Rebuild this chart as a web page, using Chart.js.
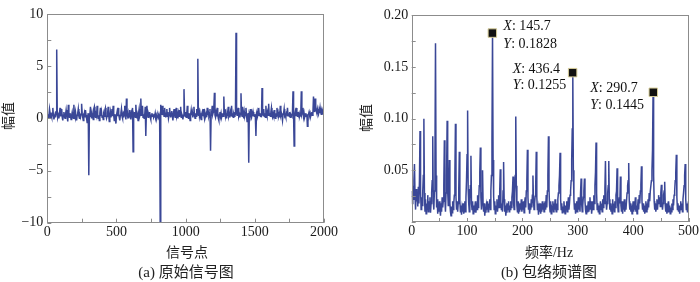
<!DOCTYPE html>
<html>
<head>
<meta charset="utf-8">
<script src="https://cdn.jsdelivr.net/npm/chart.js@4.4.0/dist/chart.umd.min.js"></script>
<style>
    body { margin: 0; background: #fff; width: 700px; height: 282px; position: relative; overflow: hidden; }
    .panel { position: absolute; top: 0; width: 350px; height: 282px; }
    .lbl { position: absolute; font-family: "Liberation Serif", "Noto Sans CJK SC", serif; font-size: 14px; color: #222;
           white-space: nowrap; transform: translate(-50%, -50%); line-height: 1; }
    .cap { font-size: 15px; }
    .ylbl { transform: translate(-50%, -50%) rotate(-90deg); }
</style>
</head>
<body>
<div class="panel" style="left:0"><canvas id="sigChart" width="350" height="282"></canvas></div>
<div class="panel" style="left:350px"><canvas id="specChart" width="350" height="282"></canvas></div>

<div class="lbl ylbl" style="left:9px; top:116px">幅值</div>
<div class="lbl" style="left:187px; top:253px">信号点</div>
<div class="lbl cap" style="left:186px; top:272px">(a) 原始信号图</div>

<div class="lbl ylbl" style="left:367px; top:118px">幅值</div>
<div class="lbl" style="left:549px; top:253px">频率/Hz</div>
<div class="lbl cap" style="left:549px; top:272px">(b) 包络频谱图</div>

<script>
// 1. DATA
// raw signal, one value every 4 samples (0..2000)
const sigStep = 4;
const signalVals = [
    0.2, 0.4, 0.1, 0.3, 0.9, 0.5, 0.0, 0.3, 0.1, 0.5, 1.0, 0.3, -0.1, 0.2, 0.4, 0.1, 0.6, 6.6, 0.4, 0.1, 0.3, 0.0, 0.5, 1.0, 0.2,
    0.5, 0.9, 0.1, -0.2, 0.3, 0.6, 0.2, 0.0, 0.4, 0.8, 0.3, 0.1, -0.3, 1.3, 0.4, 0.1, 0.5, 0.2, -0.1, 0.3, 0.6, 0.2, 0.0, 1.3, 0.3,
    0.1, 0.6, 0.2, -0.2, 0.3, 0.5, 0.9, 0.2, 0.0, 0.3, 0.1, 0.4, 1.4, 0.5, 0.1, -0.2, 0.2, 0.5, 0.1, 0.8, 0.3, 0.0, -0.4, 0.2, 0.5,
    -5.45, 0.2, 0.4, 1.1, 0.3, 0.0, 0.5, 0.2, -0.1, 0.9, 1.1, 0.3, 0.1, 0.4, 0.2, 1.2, 0.4, 0.0, 0.3, -0.2, 0.5, 1.0, 0.2, 0.6, 0.1,
    0.3, -0.1, 0.4, 0.2, 0.8, 1.0, 0.3, 0.0, 0.2, 0.5, 1.1, 0.3, -0.3, 0.2, 0.6, 0.1, 0.4, 0.9, 0.2, 1.2, 0.3, -0.2, 0.4, 0.1, -0.5,
    0.3, 0.6, 0.2, 1.0, 0.4, 0.1, -0.2, 0.3, 0.5, 0.9, 0.2, 0.0, 0.4, 0.1, 0.6, 1.2, 0.3, -0.1, 1.9, 0.4, 0.2, 0.5, 0.0, 0.3, 0.8,
    0.2, -0.1, 0.5, 0.3, 1.0, -3.2, 0.4, 0.2, 0.6, 0.1, 1.3, 0.4, 0.0, 0.3, -0.2, 0.5, 0.9, 0.2, 0.4, 1.9, 0.3, 0.6, 1.2, 0.1, 0.4,
    0.0, 0.3, 1.1, -1.7, 0.5, 1.2, 0.3, 0.1, 0.4, 0.2, 0.6, 0.1, -0.1, 0.3, 0.5, 0.2, 0.4, 0.1, 0.3, 0.2, 0.5, 0.1, 0.3, 0.0, 0.2,
    0.3, 0.1, 0.4, 0.2, -10, 1.3, 0.4, 0.6, 1.2, 0.3, 0.8, 0.2, 1.0, 0.4, 0.1, 0.5, 0.9, 0.2, 0.6, 0.0, 0.3, 1.0, 0.4, 0.1, 0.5,
    0.7, 0.2, -0.2, 0.4, 0.9, 0.3, 0.1, 0.6, 1.0, 0.2, 0.4, 0.0, 0.5, 0.2, 0.8, 0.3, 1.1, 0.1, 0.4, 0.2, -0.1, 0.3, 2.8, 0.5, 0.2,
    0.6, 0.1, 0.4, 1.2, 0.3, 0.0, 0.5, 0.2, -0.2, 0.4, 0.8, 0.3, 0.6, 0.1, 0.4, 1.1, 0.3, 0.0, 0.5, 0.2, 0.9, 0.4, 5.7, 0.3, 1.0,
    0.2, 0.5, 0.1, -0.1, 0.4, 0.6, 0.2, 0.9, 0.3, 0.0, 0.5, 0.2, 0.4, 0.1, 1.0, 0.3, 0.6, 0.2, 0.4, 0.9, -3.1, 0.3, 0.5, 1.2, 0.4,
    0.6, 1.1, 2.45, 0.3, 0.1, 0.5, 0.2, 1.0, 0.4, 0.0, -0.2, 0.4, 0.6, 0.2, 0.5, 0.1, 0.3, 0.5, 0.2, 2.1, 0.4, 0.9, 0.2, 0.5, 0.0,
    0.3, 0.6, 1.1, 0.2, 0.4, 0.1, 0.6, 0.3, 1.2, 0.2, 0.5, 0.1, 0.4, 0.2, 0.6, 0.3, 8.2, 0.9, 0.3, 0.5, 1.0, 0.2, 0.4, 0.1, 0.5,
    2.4, 0.4, 0.2, 1.1, 0.3, 0.0, 0.6, 0.2, 0.4, 1.0, 0.3, -0.3, 0.2, 0.5, -4.25, 0.4, 0.2, 0.9, 0.3, 0.1, 0.5, 0.2, 0.6, 0.3, 0.2,
    0.4, 0.1, -1.7, 0.5, 0.7, 0.2, 0.4, 1.0, 0.3, 0.5, 0.2, 0.4, 0.1, 2.9, 0.4, 0.3, 0.9, 0.2, 0.5, 0.1, 1.2, 0.4, 0.2, 0.6, 0.3,
    1.4, 0.3, 0.5, 0.2, 0.6, 1.0, 0.3, 0.1, 0.4, 0.2, 0.8, 0.3, 0.0, 0.5, 0.2, 1.0, 0.4, 0.6, 0.2, 0.4, 0.1, 1.2, 0.3, 0.5, 0.2,
    -0.2, 0.4, 0.5, 0.9, 0.2, 0.3, 0.1, 0.5, 0.4, 1.0, 0.3, 0.5, 0.2, 0.6, 0.1, 0.4, 0.3, 0.2, 0.5, 2.6, 0.4, -2.65, 0.3, 0.6, 0.2,
    1.0, 0.4, 0.2, 0.6, 0.3, 0.5, 0.2, 0.4, 0.3, 2.6, 0.4, 0.6, 1.0, 0.2, 0.5, 0.1, 0.3, 0.5, 0.2, 0.4, -0.75, 0.3, 0.4, 0.6, 0.3,
    0.5, 0.2, 0.4, 0.6, 0.3, 0.5, 2.1, 1.0, 0.6, 1.9, 1.0, 0.7, 0.5, 0.9, 0.6, 0.4, 0.8, 0.5, 1.0, 0.6, 0.4, 0.7, 0.5, 0.6, 0.4,
    0.5
];
const sigXTicks = [0, 500, 1000, 1500, 2000];
const sigYTicks = [-10, -5, 0, 5, 10];

// envelope spectrum, one value every 1 Hz (0..500 Hz)
const freqStep = 1;
const spectrumVals = [
    0.030, 0.018, 0.035, 0.022, 0.040, 0.056, 0.026, 0.012, 0.032, 0.020, 0.028, 0.015, 0.034, 0.018, 0.040, 0.088, 0.030, 0.012, 0.024, 0.016,
    0.030, 0.045, 0.100, 0.028, 0.010, 0.022, 0.008, 0.018, 0.012, 0.026, 0.010, 0.020, 0.014, 0.024, 0.009, 0.018, 0.028, 0.040, 0.083, 0.020,
    0.012, 0.030, 0.060, 0.173, 0.045, 0.014, 0.022, 0.008, 0.016, 0.010, 0.020, 0.012, 0.006, 0.018, 0.010, 0.024, 0.014, 0.020, 0.035, 0.079,
    0.022, 0.010, 0.028, 0.045, 0.098, 0.030, 0.016, 0.028, 0.060, 0.018, 0.010, 0.006, 0.015, 0.009, 0.020, 0.012, 0.018, 0.026, 0.045, 0.095,
    0.024, 0.012, 0.020, 0.010, 0.018, 0.032, 0.068, 0.020, 0.010, 0.016, 0.007, 0.014, 0.010, 0.018, 0.008, 0.012, 0.020, 0.010, 0.024, 0.040,
    0.065, 0.108, 0.032, 0.018, 0.010, 0.022, 0.035, 0.064, 0.018, 0.012, 0.020, 0.008, 0.016, 0.010, 0.014, 0.020, 0.009, 0.018, 0.012, 0.026,
    0.014, 0.020, 0.035, 0.048, 0.072, 0.024, 0.012, 0.028, 0.050, 0.016, 0.010, 0.018, 0.006, 0.014, 0.009, 0.016, 0.012, 0.020, 0.010, 0.018,
    0.014, 0.022, 0.012, 0.030, 0.045, 0.080, 0.1828, 0.060, 0.025, 0.012, 0.020, 0.008, 0.016, 0.012, 0.022, 0.010, 0.018, 0.026, 0.014, 0.030,
    0.051, 0.020, 0.012, 0.018, 0.010, 0.030, 0.058, 0.022, 0.010, 0.016, 0.006, 0.013, 0.009, 0.018, 0.012, 0.020, 0.010, 0.016, 0.012, 0.020,
    0.014, 0.024, 0.030, 0.044, 0.018, 0.012, 0.028, 0.045, 0.102, 0.035, 0.016, 0.010, 0.020, 0.008, 0.014, 0.010, 0.018, 0.012, 0.022, 0.010,
    0.016, 0.012, 0.020, 0.009, 0.018, 0.024, 0.014, 0.030, 0.040, 0.070, 0.024, 0.012, 0.018, 0.008, 0.016, 0.012, 0.022, 0.014, 0.026, 0.045,
    0.020, 0.012, 0.018, 0.025, 0.035, 0.068, 0.024, 0.012, 0.018, 0.007, 0.014, 0.010, 0.018, 0.008, 0.015, 0.010, 0.020, 0.012, 0.018, 0.010,
    0.016, 0.020, 0.012, 0.026, 0.014, 0.030, 0.045, 0.083, 0.032, 0.016, 0.010, 0.020, 0.008, 0.014, 0.012, 0.020, 0.010, 0.018, 0.012, 0.022,
    0.014, 0.010, 0.018, 0.012, 0.022, 0.028, 0.035, 0.045, 0.067, 0.022, 0.012, 0.018, 0.009, 0.015, 0.010, 0.020, 0.012, 0.008, 0.016, 0.012,
    0.020, 0.010, 0.015, 0.024, 0.012, 0.018, 0.026, 0.030, 0.040, 0.060, 0.090, 0.1445, 0.050, 0.022, 0.012, 0.018, 0.008, 0.014, 0.020, 0.010,
    0.016, 0.024, 0.012, 0.020, 0.010, 0.028, 0.042, 0.018, 0.010, 0.016, 0.024, 0.030, 0.042, 0.020, 0.012, 0.008, 0.016, 0.010, 0.014, 0.020,
    0.010, 0.016, 0.024, 0.012, 0.020, 0.008, 0.014, 0.020, 0.012, 0.026, 0.018, 0.035, 0.048, 0.077, 0.028, 0.012, 0.018, 0.010, 0.016, 0.008,
    0.014, 0.020, 0.012, 0.018, 0.010, 0.022, 0.014, 0.026, 0.018, 0.032, 0.059, 0.020, 0.012, 0.018, 0.028, 0.035, 0.059, 0.022, 0.012, 0.018,
    0.010, 0.016, 0.008, 0.022, 0.012, 0.018, 0.010, 0.020, 0.014, 0.026, 0.030, 0.052, 0.018, 0.010, 0.016, 0.024, 0.018, 0.044, 0.016, 0.010,
    0.020, 0.008, 0.016, 0.012, 0.022, 0.010, 0.018, 0.012, 0.020, 0.028, 0.035, 0.040, 0.057, 0.020, 0.012, 0.018, 0.010, 0.016, 0.008, 0.014,
    0.020, 0.010, 0.018, 0.012, 0.024, 0.010, 0.016, 0.008, 0.014, 0.022, 0.012, 0.026, 0.018, 0.030, 0.036, 0.054, 0.020, 0.012, 0.018, 0.010,
    0.016, 0.008, 0.014, 0.020, 0.010, 0.018, 0.012, 0.022, 0.014, 0.028, 0.020, 0.030, 0.030, 0.040, 0.050, 0.070, 0.1255, 0.045, 0.020, 0.012,
    0.018, 0.010, 0.016, 0.022, 0.012, 0.020, 0.026, 0.018, 0.024, 0.015, 0.028, 0.036, 0.020, 0.012, 0.018, 0.026, 0.030, 0.039, 0.016, 0.010,
    0.018, 0.008, 0.014, 0.010, 0.020, 0.012, 0.016, 0.008, 0.014, 0.010, 0.018, 0.012, 0.022, 0.016, 0.026, 0.030, 0.040, 0.048, 0.065, 0.024,
    0.012, 0.018, 0.010, 0.016, 0.008, 0.014, 0.020, 0.012, 0.018, 0.010, 0.022, 0.028, 0.035, 0.045, 0.056, 0.022, 0.012, 0.018, 0.010, 0.016,
    0.020
];
const specXTicks = [0, 100, 200, 300, 400, 500];
const specYTicks = [0, 0.05, 0.10, 0.15, 0.20];

// data tips, texts exactly as printed next to each marker
const markFreq = [145.7, 290.7, 436.4];
const markAmp = [0.1828, 0.1445, 0.1255];
const markTextX = ['145.7', '436.4', '290.7'];
const markTextY = ['0.1828', '0.1255', '0.1445'];

// 2. STYLE
const lineBlue = '#3a4797';
const frameGray = '#8c8c8c';
const tickFont = { family: "'Liberation Serif', serif", size: 14 };
// offset of the tip text from its marker: [dx, dy of X line, dy of Y line]
const tipOffsets = [[11, -7, 11], [-60, -3, 13], [-63, -4, 13]];

function range(min, max, step) {
    const out = [];
    for (let v = min; v <= max + step / 1000; v += step) out.push(+v.toFixed(4));
    return out;
}

// box frame + short inward tick marks on left and bottom
const frameTicks = {
    id: 'frameTicks',
    afterDatasetsDraw(chart, args, opts) {
        const { ctx, chartArea: a, scales: { x, y } } = chart;
        ctx.save();
        ctx.strokeStyle = frameGray;
        ctx.lineWidth = 1;
        ctx.beginPath();
        opts.xMinor.forEach(v => {
            const px = Math.round(x.getPixelForValue(v)) + 0.5;
            ctx.moveTo(px, a.bottom);
            ctx.lineTo(px, a.bottom - 4);
        });
        opts.yMinor.forEach(v => {
            const py = Math.round(y.getPixelForValue(v)) + 0.5;
            ctx.moveTo(a.left, py);
            ctx.lineTo(a.left + 4, py);
        });
        ctx.stroke();
        ctx.strokeRect(Math.round(a.left) + 0.5, Math.round(a.top) + 0.5, Math.round(a.width) - 1, Math.round(a.height) - 1);
        ctx.restore();
    }
};

// "X: ..." / "Y: ..." texts beside the spectrum markers
const tipText = {
    id: 'tipText',
    afterDatasetsDraw(chart) {
        const { ctx } = chart;
        const pts = chart.getDatasetMeta(0).data;
        ctx.save();
        ctx.fillStyle = '#111';
        ctx.textBaseline = 'middle';
        pts.forEach((p, i) => {
            const [dx, dyX, dyY] = tipOffsets[i];
            [['X', markTextX[i], dyX], ['Y', markTextY[i], dyY]].forEach(([k, val, dy]) => {
                ctx.font = "italic 14px 'Liberation Serif'";
                ctx.fillText(k, p.x + dx, p.y + dy);
                const w = ctx.measureText(k).width;
                ctx.font = "14px 'Liberation Serif'";
                ctx.fillText(': ' + val, p.x + dx + w, p.y + dy);
            });
        });
        ctx.restore();
    }
};

function baseScale(ticksArr, min, max, fmt, fitSize, padding) {
    return {
        type: 'linear',
        min: min,
        max: max,
        grid: { display: false, drawTicks: false },
        border: { display: false },
        ticks: { font: tickFont, color: '#1a1a1a', padding: padding, callback: fmt, autoSkip: false, maxRotation: 0 },
        afterBuildTicks: s => { s.ticks = ticksArr.map(v => ({ value: v })); },
        afterFit: fitSize
    };
}

// 3. CHART.JS INITIALIZATION
document.addEventListener('DOMContentLoaded', function() {
    new Chart(document.getElementById('sigChart'), {
        type: 'line',
        data: {
            datasets: [{
                data: signalVals.map((v, i) => ({ x: i * sigStep, y: v })),
                borderColor: lineBlue,
                borderWidth: 1.5,
                pointRadius: 0,
                tension: 0
            }]
        },
        options: {
            responsive: false,
            animation: false,
            layout: { padding: { top: 14, right: 26, left: 0, bottom: 0 } },
            plugins: {
                legend: { display: false },
                tooltip: { enabled: false },
                frameTicks: { xMinor: range(0, 2000, 250), yMinor: range(-10, 10, 2.5) }
            },
            scales: {
                x: baseScale(sigXTicks, 0, 2000, v => String(v), s => { s.height = 59.3; }, 1),
                y: baseScale(sigYTicks, -10, 10, v => String(v).replace('-', '\u2212'), s => { s.width = 47.3; }, 4)
            }
        },
        plugins: [frameTicks]
    });

    new Chart(document.getElementById('specChart'), {
        type: 'line',
        data: {
            datasets: [{
                data: markFreq.map((f, i) => ({ x: f, y: markAmp[i] })),
                showLine: false,
                pointStyle: 'rect',
                pointRadius: 6,
                backgroundColor: '#111',
                borderColor: '#d9cf9a',
                borderWidth: 1
            }, {
                data: spectrumVals.map((v, i) => ({ x: i * freqStep, y: v })),
                borderColor: lineBlue,
                borderWidth: 1.5,
                pointRadius: 0,
                tension: 0
            }]
        },
        options: {
            responsive: false,
            animation: false,
            layout: { padding: { top: 15.3, right: 11, left: 0, bottom: 0 } },
            plugins: {
                legend: { display: false },
                tooltip: { enabled: false },
                frameTicks: { xMinor: range(0, 500, 50), yMinor: range(0, 0.2, 0.025) }
            },
            scales: {
                x: baseScale(specXTicks, 0, 500, v => String(v), s => { s.height = 60; }, 1),
                y: baseScale(specYTicks, 0, 0.2, v => (v === 0 ? '' : v.toFixed(2)), s => { s.width = 61.7; }, 3.5)
            }
        },
        plugins: [frameTicks, tipText]
    });
});
</script>
</body>
</html>
